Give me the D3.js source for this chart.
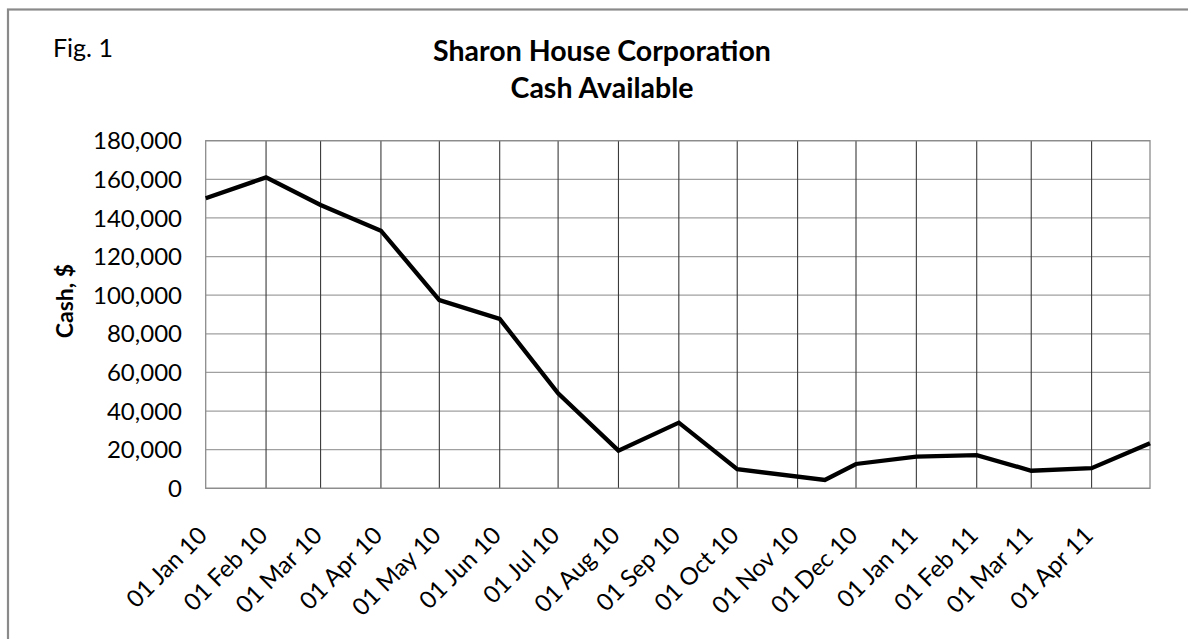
<!DOCTYPE html>
<html>
<head>
<meta charset="utf-8">
<script src="https://cdn.jsdelivr.net/npm/d3@7"></script>
<style>
  body { margin: 0; background: #fff; }
  svg { display: block; }
  text { font-family: Lato, "Open Sans", sans-serif; fill: #000; }
</style>
</head>
<body>
<svg width="1188" height="639"></svg>
<script>
// cash balance readings (picked off the original figure)
var dates = ["2010-01-01", "2010-02-01", "2010-03-01", "2010-04-01", "2010-05-01",
    "2010-06-01", "2010-07-01", "2010-08-01", "2010-09-01", "2010-10-01",
    "2010-11-15", "2010-12-01", "2011-01-01", "2011-02-01", "2011-03-01",
    "2011-04-01", "2011-05-01"];
var cash = [150200, 161000, 146700, 133400, 97500,
    87700, 49200, 19500, 34000, 9900,
    4300, 12600, 16400, 17200, 9100,
    10400, 23300];
var yTicks = [0, 20000, 40000, 60000, 80000, 100000, 120000, 140000, 160000, 180000];
var titleLines = ["Sharon House Corporation", "Cash Available"];

var svg = d3.select("svg"),
    width = +svg.attr("width"),
    height = +svg.attr("height");

var parse = d3.utcParse("%Y-%m-%d");
var points = dates.map(function(d, i) {
    return { date: parse(d), value: cash[i] };
});

var x = d3.scaleUtc()
    .domain([parse("2010-01-01"), parse("2011-05-01")])
    .range([205.7, 1150]);
var y = d3.scaleLinear()
    .domain([0, 180000])
    .range([488.3, 140.7]);

//outer frame, only top/left show in the crop
svg.append("rect")
    .attr("x", 8).attr("y", 9.5)
    .attr("width", 1300).attr("height", 800)
    .attr("fill", "none")
    .attr("stroke", "#8a8a8a")
    .attr("stroke-width", 2.2);

svg.append("text")
    .attr("x", 53).attr("y", 57)
    .style("font-size", "25px")
    .text("Fig. 1");

svg.selectAll(".title")
    .data(titleLines)
    .enter().append("text")
    .attr("class", "title")
    .attr("x", 602)
    .attr("y", (d, i) => 61 + i * 37)
    .attr("text-anchor", "middle")
    .style("font-size", "28.5px")
    .style("font-weight", "bold")
    .text(d => d);

// horizontal grid
svg.append("g")
    .selectAll("line")
    .data(yTicks)
    .enter().append("line")
    .attr("x1", x.range()[0]).attr("x2", x.range()[1])
    .attr("y1", d => y(d)).attr("y2", d => y(d))
    .attr("stroke", "#a0a0a0")
    .attr("stroke-width", 1.3);

// vertical grid, one per month
var months = d3.utcMonth.range(parse("2010-02-01"), parse("2011-05-01"));
svg.append("g")
    .selectAll("line")
    .data(months)
    .enter().append("line")
    .attr("x1", d => x(d)).attr("x2", d => x(d))
    .attr("y1", y(180000)).attr("y2", y(0))
    .attr("stroke", "#3a3a3a")
    .attr("stroke-width", 1.1);

svg.append("rect")
    .attr("x", x.range()[0]).attr("y", y(180000))
    .attr("width", x.range()[1] - x.range()[0])
    .attr("height", y(0) - y(180000))
    .attr("fill", "none")
    .attr("stroke", "#8c8c8c")
    .attr("stroke-width", 1.3);

// y tick labels
var fmt = d3.format(",");
svg.append("g")
    .selectAll("text")
    .data(yTicks)
    .enter().append("text")
    .attr("x", 182)
    .attr("y", d => y(d))
    .attr("dy", "0.36em")
    .attr("text-anchor", "end")
    .style("font-size", "24px")
    .text(d => fmt(d));

// x tick labels, rotated
var xLabels = d3.utcMonth.range(parse("2010-01-01"), parse("2011-05-01"));
var xfmt = d3.utcFormat("%d %b %y");
svg.append("g")
    .selectAll("text")
    .data(xLabels)
    .enter().append("text")
    .attr("transform", d => "translate(" + (x(d) + 3) + "," + 537 + ") rotate(-45)")
    .attr("text-anchor", "end")
    .style("font-size", "24px")
    .text(d => xfmt(d));

svg.append("text")
    .attr("transform", "translate(73,301) rotate(-90)")
    .attr("text-anchor", "middle")
    .style("font-size", "23px")
    .style("font-weight", "bold")
    .text("Cash, $");

var line = d3.line()
    .x(d => x(d.date))
    .y(d => y(d.value));

svg.append("path")
    .datum(points)
    .attr("d", line)
    .attr("fill", "none")
    .attr("stroke", "#000")
    .attr("stroke-width", 4.3)
    .attr("stroke-linejoin", "miter");
</script>
</body>
</html>
